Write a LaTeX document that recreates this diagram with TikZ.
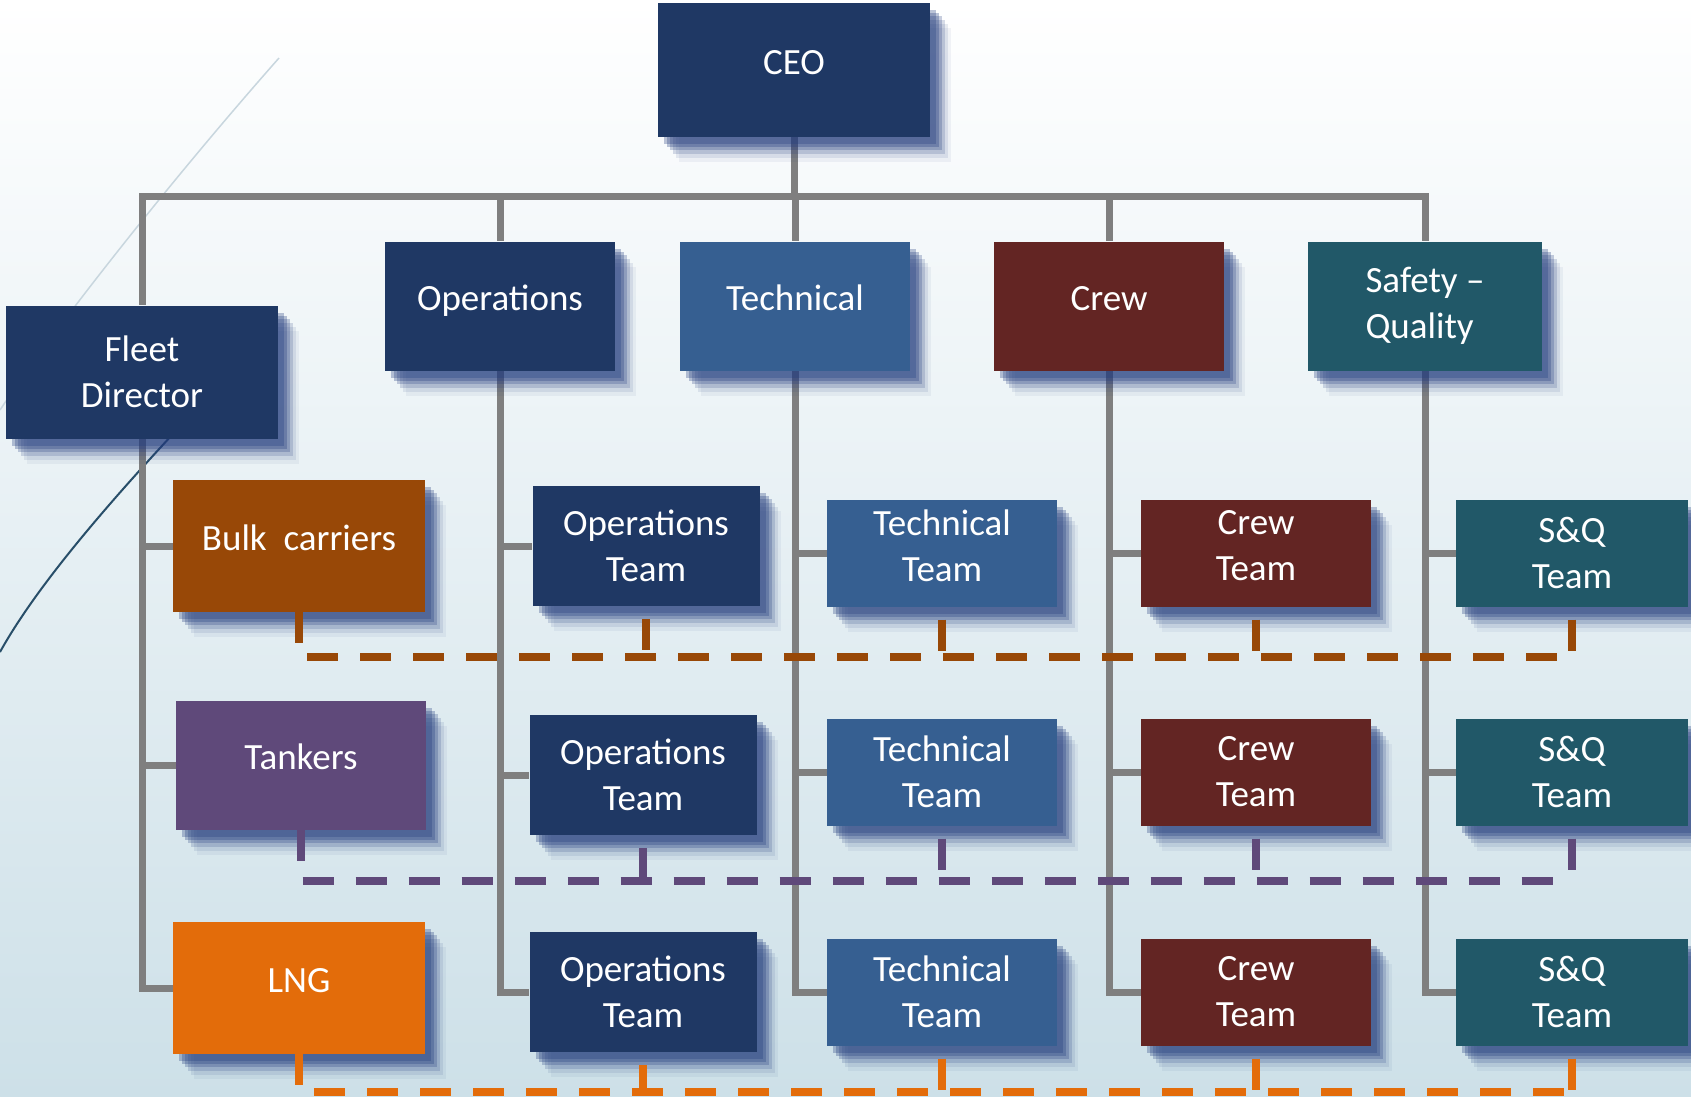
\documentclass[tikz,border=0pt]{standalone}
\usepackage{fontspec}
\setmainfont{Carlito}
\usepackage{tikz}
\usetikzlibrary{backgrounds}
\definecolor{navyblue}{RGB}{31, 56, 100}
\definecolor{techblue}{RGB}{54, 95, 145}
\definecolor{crewred}{RGB}{99, 37, 35}
\definecolor{sqteal}{RGB}{33, 88, 104}
\definecolor{bulkbrown}{RGB}{152, 72, 7}
\definecolor{tankerpurple}{RGB}{95, 73, 122}
\definecolor{lngorange}{RGB}{227, 108, 10}
\definecolor{linegray}{RGB}{127, 127, 127}
\definecolor{bgblue}{RGB}{205, 224, 232}
\definecolor{shadownavy}{RGB}{35, 60, 125}
\definecolor{curvelight}{RGB}{200, 214, 222}
\definecolor{curvedark}{RGB}{40, 78, 105}

\begin{document}
\begin{tikzpicture}[x=1pt, y=-1pt,
    shadowstep/.style 2 args={preaction={fill=shadownavy, fill opacity=#1,
        transform canvas={shift={#2}}}},
    boxshadow/.style={shadowstep={0.3}{(6pt,-7pt)}, shadowstep={0.3}{(9pt,-10pt)},
        shadowstep={0.25}{(12pt,-13pt)}, shadowstep={0.18}{(15pt,-17pt)},
        shadowstep={0.1}{(18pt,-21pt)}, shadowstep={0.06}{(21pt,-25pt)}},
    box/.style={rectangle, boxshadow, fill=#1, text=white, align=center, inner sep=0pt,
        font=\fontsize{37}{46}\selectfont},
    oneline/.style={text height=27pt, text depth=18pt},
    dept/.style={box=#1, minimum width=230pt, minimum height=129pt},
    fleetrow/.style={box=#1, oneline, minimum width=252pt, minimum height=132pt},
    opsteam/.style={box=navyblue, minimum width=227pt, minimum height=120pt},
    team/.style={box=#1, minimum width=230pt, minimum height=107pt},
    conn/.style={draw=linegray, line width=7pt},
    rowline/.style={draw=#1, line width=7.5pt, dash pattern=on 31pt off 22pt},
    stub/.style={rowline=#1, dash phase=40pt}]
    \useasboundingbox (0,0) rectangle (1691,1096);
    \clip (0,0) rectangle (1691,1096);

    % Top
    \node[box=navyblue, oneline, minimum width=272pt, minimum height=134pt] (ceo) at (794,70) {CEO};
    \node[box=navyblue, minimum width=272pt, minimum height=133pt] (fleet) at (142,372) {Fleet\\Director};

    % Departments
    \node[dept=navyblue, oneline] (ops) at (500,306) {Operations};
    \node[dept=techblue, oneline] (tech) at (795,306) {Technical};
    \node[dept=crewred, oneline] (crew) at (1109,306) {Crew};
    \node[dept=sqteal, minimum width=234pt, align=left] (sq) at (1425,306) {Safety --\\Quality};

    % Fleets
    \node[fleetrow=bulkbrown] (bulk) at (299,546) {Bulk\ \ carriers};
    \node[fleetrow=tankerpurple, minimum width=250pt, minimum height=129pt] (tankers) at (301,765) {Tankers};
    \node[fleetrow=lngorange] (lng) at (299,988) {LNG};

    % Teams
    \node[opsteam] (opsA) at (646,546) {Operations\\Team};
    \node[opsteam] (opsB) at (643,775) {Operations\\Team};
    \node[opsteam] (opsC) at (643,992) {Operations\\Team};

    \node[team=techblue] (techA) at (942,553) {Technical\\Team\\[-31pt]};
    \node[team=techblue] (techB) at (942,772) {Technical\\Team};
    \node[team=techblue] (techC) at (942,992) {Technical\\Team};

    \node[team=crewred] (crewA) at (1256,553) {Crew\\Team\\[-31pt]};
    \node[team=crewred] (crewB) at (1256,772) {Crew\\Team};
    \node[team=crewred] (crewC) at (1256,992) {Crew\\Team};

    \node[team=sqteal, minimum width=232pt] (sqA) at (1572,553) {S\&Q\\Team};
    \node[team=sqteal, minimum width=232pt] (sqB) at (1572,772) {S\&Q\\Team};
    \node[team=sqteal, minimum width=232pt] (sqC) at (1572,992) {S\&Q\\Team};

    \begin{scope}[on background layer]
        \clip (0,0) rectangle (1691,1096);
        \shade[top color=white, bottom color=bgblue] (0,0) rectangle (1691,1096);

        % Curves
        \draw[curvelight, line width=1.5pt] (279,58) .. controls (180,170) and (60,320) .. (0,410);
        \draw[curvedark, line width=2pt] (200,405) .. controls (120,490) and (40,580) .. (0,652);

        % Tree
        \draw[conn] (ceo.south) -- ++(0,59) -| (fleet.north);
        \draw[conn] (ceo.south) -- ++(0,59) -| (ops.north);
        \draw[conn] (ceo.south) -- ++(0,59) -| (tech.north);
        \draw[conn] (ceo.south) -- ++(0,59) -| (crew.north);
        \draw[conn] (ceo.south) -- ++(0,59) -| (sq.north);

        \draw[conn] (fleet.south) |- (bulk.west);
        \draw[conn] (fleet.south) |- (tankers.west);
        \draw[conn] (fleet.south) |- (lng.west);

        \draw[conn] (ops.south) |- (opsA.west);
        \draw[conn] (ops.south) |- (opsB.west);
        \draw[conn] (ops.south) |- (opsC.west);

        \draw[conn] (tech.south) |- (techA.west);
        \draw[conn] (tech.south) |- (techB.west);
        \draw[conn] (tech.south) |- (techC.west);

        \draw[conn] (crew.south) |- (crewA.west);
        \draw[conn] (crew.south) |- (crewB.west);
        \draw[conn] (crew.south) |- (crewC.west);

        \draw[conn] (sq.south) |- (sqA.west);
        \draw[conn] (sq.south) |- (sqB.west);
        \draw[conn] (sq.south) |- (sqC.west);
    \end{scope}

    % Fleet rows
    \coordinate (brownrow) at (0,657);
    \coordinate (purplerow) at (0,881);
    \coordinate (orangerow) at (0,1092);

    \draw[rowline=bulkbrown] (bulk.south) |- (sqA.south |- brownrow);
    \draw[stub=bulkbrown] (opsA.south) -- (opsA.south |- brownrow);
    \draw[stub=bulkbrown] (techA.south) -- (techA.south |- brownrow);
    \draw[stub=bulkbrown] (crewA.south) -- (crewA.south |- brownrow);
    \draw[stub=bulkbrown] (sqA.south) -- (sqA.south |- brownrow);

    \draw[rowline=tankerpurple] (tankers.south) |- (sqB.south |- purplerow);
    \draw[stub=tankerpurple] (opsB.south) -- (opsB.south |- purplerow);
    \draw[stub=tankerpurple] (techB.south) -- (techB.south |- purplerow);
    \draw[stub=tankerpurple] (crewB.south) -- (crewB.south |- purplerow);
    \draw[stub=tankerpurple] (sqB.south) -- (sqB.south |- purplerow);

    \draw[rowline=lngorange] (lng.south) |- (sqC.south |- orangerow);
    \draw[stub=lngorange] (opsC.south) -- (opsC.south |- orangerow);
    \draw[stub=lngorange] (techC.south) -- (techC.south |- orangerow);
    \draw[stub=lngorange] (crewC.south) -- (crewC.south |- orangerow);
    \draw[stub=lngorange] (sqC.south) -- (sqC.south |- orangerow);
\end{tikzpicture}
\end{document}
